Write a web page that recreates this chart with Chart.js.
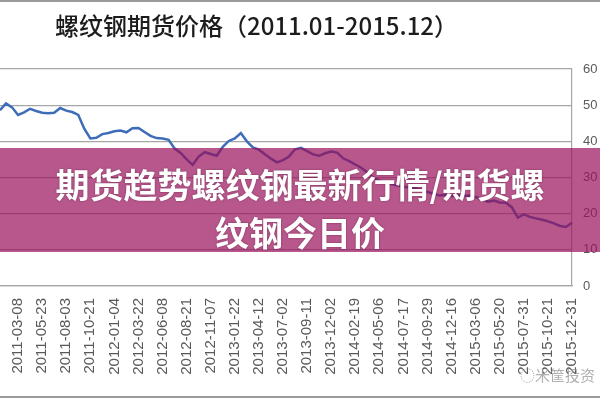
<!DOCTYPE html>
<html>
<head>
<meta charset="utf-8">
<script src="https://cdn.jsdelivr.net/npm/chart.js@4.4.1/dist/chart.umd.min.js"></script>
<style>
  html, body { margin: 0; padding: 0; background: #fff; overflow: hidden; }
  #wrap { position: relative; width: 600px; height: 400px; }
  canvas { position: absolute; left: 0; top: 0; }
  #title { position: absolute; left: 0; top: 10px; width: 513px; text-align: center;
           font-family: "Noto Sans CJK SC", sans-serif; font-weight: 500; font-size: 24px;
           line-height: 30px; color: #1c1c1c; white-space: nowrap; }
  #banner { position: absolute; left: 0; top: 148px; width: 600px; height: 104px;
            background: rgba(152, 16, 91, 0.7); }
  #bannerText { position: absolute; left: 0; top: 160px; width: 600px; text-align: center;
                font-family: "Noto Sans CJK SC", sans-serif; font-weight: bold; font-size: 34px;
                line-height: 48px; color: #fff; text-shadow: 0 0 2px rgba(60,0,30,0.5); }
  #lineTop { position: absolute; left: 0; top: 0; width: 600px; height: 2px; background: #9a9a9a; }
  #lineBottom { position: absolute; left: 0; top: 396px; width: 600px; height: 2px; background: #9a9a9a; }
  #wm { position: absolute; left: 520px; top: 364px; font-family: "Noto Sans CJK SC", sans-serif;
        font-size: 15px; color: rgba(150,150,150,0.75); white-space: nowrap; }
</style>
</head>
<body>
<div id="wrap">
  <canvas id="c" width="600" height="400"></canvas>
  <div id="lineTop"></div>
  <div id="lineBottom"></div>
  <div id="title">螺纹钢期货价格（2011.01-2015.12）</div>
  <div id="banner"></div>
  <div id="bannerText">期货趋势螺纹钢最新行情/期货螺<br>纹钢今日价</div>
  <div id="wm">◌米筐投资</div>
</div>
<script>
// Tick dates shown on the x axis (one every 4 samples, starting at sample 3)
const tickDates = [
  "2011-03-08","2011-05-23","2011-08-03","2011-10-21","2012-01-04","2012-03-22",
  "2012-06-08","2012-08-21","2012-11-07","2013-01-22","2013-04-12","2013-07-02",
  "2013-09-11","2013-12-02","2014-02-19","2014-05-06","2014-07-17","2014-09-29",
  "2014-12-16","2015-03-06","2015-05-20","2015-07-31","2015-10-21","2015-12-31"
];
// Price series (hundreds of yuan/ton)
const prices = [
  48.6, 50.5, 49.4, 47.3, 48.0, 49.0, 48.4, 47.9, 47.8, 47.9,
  49.2, 48.5, 48.1, 47.3, 43.5, 40.8, 41.0, 42.0, 42.3, 42.8,
  43.0, 42.5, 43.6, 43.7, 42.6, 41.5, 40.9, 40.8, 40.4, 38.0,
  36.8, 35.0, 33.5, 35.8, 37.0, 36.5, 36.0, 38.5, 40.1, 40.8,
  42.3, 40.0, 38.3, 37.7, 36.4, 35.2, 34.2, 34.8, 35.8, 37.8,
  38.2, 37.3, 36.4, 36.0, 36.7, 37.2, 36.9, 35.3, 34.5, 33.6,
  32.7, 31.4, 29.9, 29.2, 28.5, 28.2, 27.8, 27.5, 27.2, 27.0,
  26.5, 26.0, 25.5, 25.0, 25.2, 24.8, 25.1, 24.9, 25.0, 24.6,
  24.1, 23.3, 23.6, 23.1, 23.0, 21.8, 18.9, 19.8, 19.1, 18.7,
  18.3, 17.9, 17.3, 16.6, 16.3, 17.5
];
const yTicks = [0, 10, 20, 30, 40, 50, 60];

const labels = prices.map((v, i) => (i % 4 === 3) ? tickDates[(i - 3) / 4] : "");

new Chart(document.getElementById("c"), {
  type: "line",
  data: {
    labels: labels,
    datasets: [{
      data: prices,
      borderColor: "#3d6db8",
      borderWidth: 2.5,
      pointRadius: 0,
      tension: 0,
      fill: false
    }]
  },
  options: {
    responsive: false,
    animation: false,
    devicePixelRatio: 1,
    layout: { padding: { left: 0, right: 2, top: 69, bottom: 19 } },
    plugins: { legend: { display: false }, title: { display: false }, tooltip: { enabled: false } },
    scales: {
      x: {
        offset: false,
        afterFit: (scale) => { scale.paddingLeft = 0; scale.paddingRight = 0; scale.height = 95; },
        grid: { display: false, drawTicks: false },
        border: { display: true, color: "#a6a6a6", width: 1.2 },
        ticks: {
          autoSkip: false, minRotation: 90, maxRotation: 90, padding: 12,
          color: "#5a5a5a", font: { family: "Liberation Sans", size: 15 }
        }
      },
      y: {
        position: "right",
        min: yTicks[0], max: yTicks[yTicks.length - 1],
        afterBuildTicks: (axis) => { axis.ticks = yTicks.map(v => ({ value: v })); },
        afterFit: (scale) => { scale.width = 26; },
        grid: { color: "#a6a6a6", lineWidth: 1.2, drawTicks: false },
        border: { display: true, color: "#a6a6a6", width: 1.2 },
        ticks: { padding: 11, color: "#5a5a5a", font: { family: "Liberation Sans", size: 13 } }
      }
    }
  }
});
</script>
</body>
</html>
